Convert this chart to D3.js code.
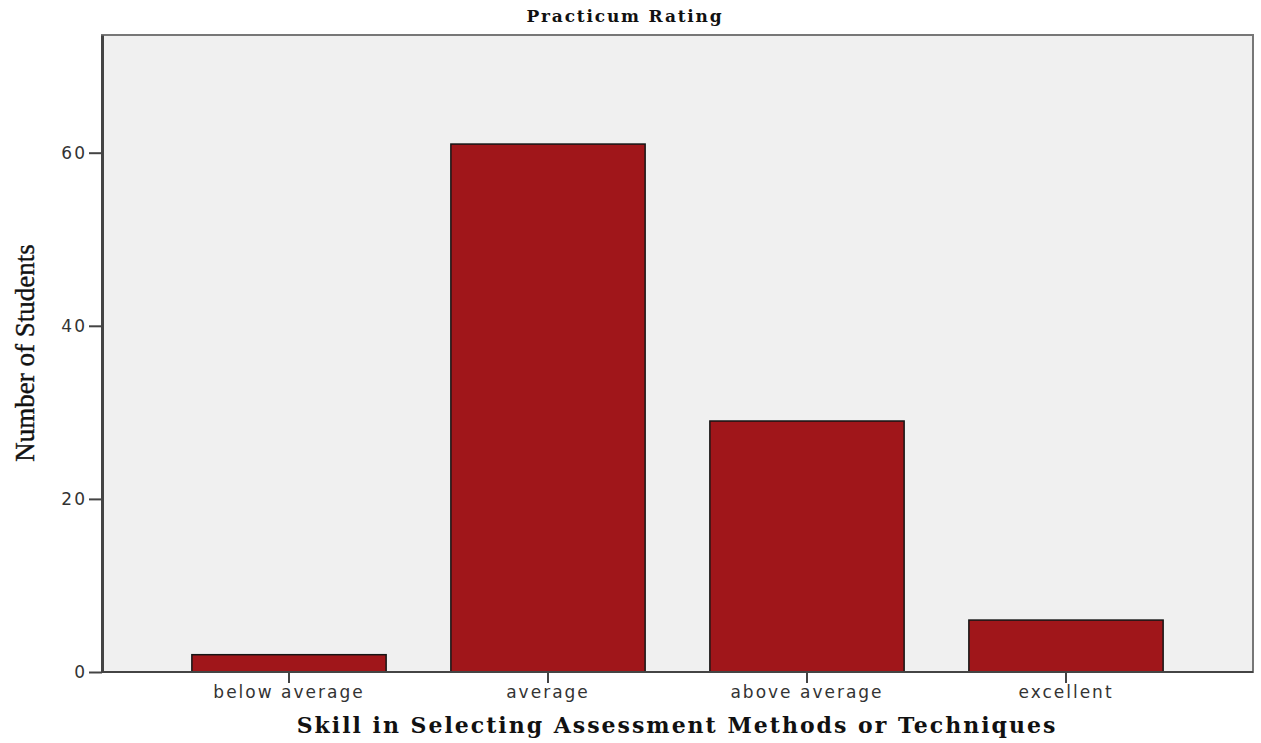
<!DOCTYPE html>
<html>
<head>
<meta charset="UTF-8"/>
<script src="https://cdn.jsdelivr.net/npm/d3@7"></script>
<style>
body { margin: 0; background: white; }
</style>
</head>
<body>
<div id="chart"></div>
<script>
// data
var categories = ["below average", "average", "above average", "excellent"];
var counts = [2, 61, 29, 6];
var yTicks = [0, 20, 40, 60];

var W = 1261, H = 743;
var plotLeft = 102, plotRight = 1253, plotTop = 35, plotBottom = 672;

var svg = d3.select("#chart").append("svg")
	.attr("width", W)
	.attr("height", H);

var x = d3.scaleBand()
	.domain(categories)
	.range([159.5, 1195.5])
	.paddingInner(0.25)
	.paddingOuter(0.125);

var y = d3.scaleLinear()
	.domain([0, 73.6])
	.range([plotBottom, plotTop]);

// plot background + frame
svg.append("rect")
	.attr("x", plotLeft)
	.attr("y", plotTop)
	.attr("width", plotRight - plotLeft)
	.attr("height", plotBottom - plotTop)
	.attr("fill", "#f0f0f0")
	.attr("stroke", "#777")
	.attr("stroke-width", 2);

// bars
svg.selectAll(".bar")
	.data(counts)
	.enter().append("rect")
	.attr("class", "bar")
	.attr("x", function(d, i) { return x(categories[i]); })
	.attr("y", function(d) { return y(d); })
	.attr("width", x.bandwidth())
	.attr("height", function(d) { return plotBottom - y(d); })
	.attr("fill", "#a0161a")
	.attr("stroke", "#151515")
	.attr("stroke-width", 1.5);

// y axis
var yAxis = svg.append("g")
	.attr("transform", "translate(" + plotLeft + ",0)")
	.call(d3.axisLeft(y).tickValues(yTicks).tickSize(13).tickSizeOuter(0).tickPadding(2));
yAxis.select(".domain").attr("stroke", "#444").attr("stroke-width", 3);
yAxis.selectAll(".tick line").attr("stroke", "#444").attr("stroke-width", 2);
yAxis.selectAll(".tick text")
	.attr("font-family", "DejaVu Sans")
	.attr("font-size", 17)
	.attr("letter-spacing", 2)
	.attr("fill", "#333");

// x axis
var xAxis = svg.append("g")
	.attr("transform", "translate(0," + plotBottom + ")")
	.call(d3.axisBottom(x).tickSize(11).tickSizeOuter(0).tickPadding(3));
xAxis.select(".domain").attr("stroke", "#444").attr("stroke-width", 2)
	.attr("d", "M" + plotLeft + ",0H" + plotRight);
xAxis.selectAll(".tick line").attr("stroke", "#444").attr("stroke-width", 2);
xAxis.selectAll(".tick text")
	.attr("font-family", "DejaVu Sans")
	.attr("font-size", 17)
	.attr("letter-spacing", 2)
	.attr("fill", "#333");

// title
svg.append("text")
	.attr("x", 625)
	.attr("y", 22)
	.attr("text-anchor", "middle")
	.attr("font-family", "DejaVu Serif")
	.attr("font-weight", "bold")
	.attr("font-size", 17)
	.attr("letter-spacing", 1.8)
	.attr("fill", "#111")
	.text("Practicum Rating");

// axis titles
svg.append("text")
	.attr("x", 677)
	.attr("y", 733)
	.attr("text-anchor", "middle")
	.attr("font-family", "DejaVu Serif")
	.attr("font-weight", "bold")
	.attr("font-size", 22)
	.attr("letter-spacing", 2)
	.attr("fill", "#111")
	.text("Skill in Selecting Assessment Methods or Techniques");

svg.append("text")
	.attr("transform", "translate(34,353) rotate(-90)")
	.attr("text-anchor", "middle")
	.attr("font-family", "Liberation Serif")
	.attr("font-size", 27)
	.attr("stroke", "#111")
	.attr("stroke-width", 0.4)
	.attr("fill", "#111")
	.text("Number of Students");
</script>
</body>
</html>
